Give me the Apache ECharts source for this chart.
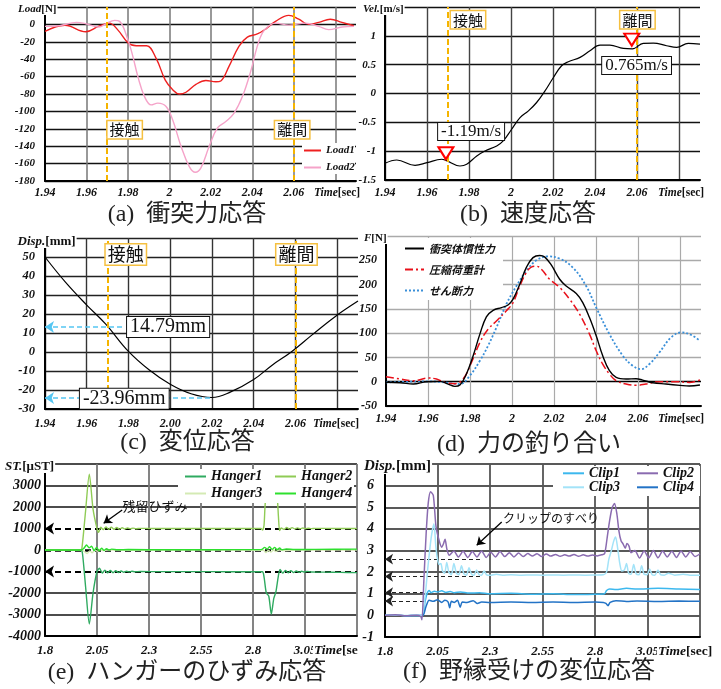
<!DOCTYPE html>
<html><head><meta charset="utf-8">
<script src="https://cdn.jsdelivr.net/npm/echarts@6/dist/echarts.min.js"></script>
<style>html,body{margin:0;padding:0;background:#fff}#c{width:721px;height:689px}</style>
</head><body><div id="c"></div>
<script>
const SERIF = '"Liberation Serif","Times New Roman",serif';
const CJK = '"Noto Sans CJK JP","Noto Sans",sans-serif';

// event times
const tContact = 1.969, tRelease = 2.0575;

// (a) impact force
const load1 = [[1.94,-8],[1.9496,-1],[1.9597,-8.5],[1.966,-2],[1.971,1.5],[1.975,-6],[1.98,-21],[1.984,-24.5],[1.989,-24.5],[1.9936,-39],[1.998,-64],[2.0016,-75],[2.0048,-80],[2.008,-78],[2.0128,-69],[2.0176,-64.5],[2.0224,-66],[2.0248,-65],[2.0288,-48],[2.0336,-25],[2.0376,-14.6],[2.0424,-11],[2.0464,-5.4],[2.0512,3.5],[2.0576,10.4],[2.0624,6],[2.0672,0],[2.072,2.3],[2.0776,6],[2.0832,2.3],[2.089,-1.5]];
const load2 = [[1.94,-2.3],[1.947,-1.5],[1.9552,2.3],[1.9597,0.8],[1.966,-3],[1.9696,1],[1.9736,4.6],[1.976,3.5],[1.98,-17.7],[1.9824,-37],[1.9848,-60],[1.988,-83],[1.9912,-92.5],[1.9944,-90.5],[1.9984,-94.4],[2.0016,-110],[2.0056,-140],[2.0096,-163.5],[2.0125,-170],[2.0152,-165],[2.0192,-140],[2.0232,-119],[2.0272,-111.7],[2.0312,-102],[2.0352,-83],[2.0392,-54],[2.0424,-25],[2.0448,-10],[2.048,-1.5],[2.0512,1.5],[2.0576,-0.8],[2.0656,1.5],[2.072,-2.3],[2.0768,-6],[2.0832,-3],[2.089,-2.3]];

// (b) velocity
const vel = [[1.94,-1.21],[1.9456,-1.153],[1.9543,-1.246],[1.96,-1.2],[1.967,-1.14],[1.969,-1.16],[1.9757,-1.257],[1.9789,-1.228],[1.9837,-1.083],[1.9876,-0.997],[1.9932,-0.91],[1.9963,-0.823],[2.0003,-0.62],[2.0043,-0.417],[2.0083,-0.301],[2.0122,-0.156],[2.0162,0.046],[2.0202,0.278],[2.0241,0.481],[2.0273,0.55],[2.0329,0.626],[2.0376,0.742],[2.0424,0.84],[2.0471,0.84],[2.0535,0.782],[2.0578,0.775],[2.063,0.869],[2.0678,0.875],[2.0741,0.828],[2.0789,0.8],[2.0844,0.869],[2.09,0.857]];
const velLabels = ['-1.19m/s', '0.765m/s'];

// (c) displacement
const disp = [[1.94,50],[1.95,36.5],[1.96,24.7],[1.969,14.79],[1.98,0.3],[1.99,-9.5],[2.0,-17],[2.01,-22],[2.02,-23.96],[2.029,-21],[2.04,-14.5],[2.049,-6.8],[2.058,0],[2.068,9],[2.079,18.6],[2.09,26.8]];
const dispLabels = ['14.79mm', '-23.96mm'];

// (d) force balance
const fInertia = [[1.94,-1.4],[1.9467,-2],[1.953,-4.8],[1.9593,0],[1.9657,0.7],[1.9696,-4.8],[1.9728,-9.6],[1.9752,-6.8],[1.9783,15.8],[1.9815,53.4],[1.9847,98],[1.9878,133.6],[1.991,147],[1.995,152.7],[1.9981,158],[2.0005,170],[2.0037,200.7],[2.0068,235],[2.01,255.5],[2.0132,260],[2.0155,257],[2.0187,240.4],[2.0227,211],[2.0258,197],[2.0306,181.5],[2.0337,163],[2.0369,132],[2.0401,94.5],[2.0432,53.4],[2.0464,22.6],[2.0496,8.9],[2.0543,5.5],[2.0591,6.2],[2.0622,3.4],[2.067,-2],[2.0733,-4.8],[2.08,-7.5],[2.0844,-8.9],[2.0895,-6.8]];
const fLoadCell = [[1.94,10.3],[1.9467,5.5],[1.953,2],[1.9601,7.5],[1.964,5.5],[1.968,-1.4],[1.9728,-4],[1.9767,5.5],[1.9807,39.7],[1.9847,80.8],[1.9886,108],[1.9926,125],[1.9973,146],[2.0005,163],[2.0037,197],[2.0068,224.7],[2.0092,236],[2.0116,237.7],[2.014,231.5],[2.0179,211],[2.0227,194],[2.0274,170],[2.0322,139],[2.0369,98],[2.0401,63.7],[2.0432,36.3],[2.0464,15.8],[2.0496,2],[2.0543,-4.8],[2.0591,-7.5],[2.0638,-4.8],[2.0702,0],[2.0781,0],[2.0844,-1.4],[2.0895,3.4]];
const fShear = [[1.94,-1.4],[1.9514,0],[1.9609,0.7],[1.9688,-2],[1.9752,-4.8],[1.9799,12.3],[1.9847,43],[1.9886,74],[1.9926,111.6],[1.9973,159.6],[2.0021,197],[2.0068,228],[2.0116,250],[2.0171,258],[2.0227,253.4],[2.029,235],[2.0353,197],[2.0401,152.7],[2.0464,98],[2.0528,53.4],[2.0575,32.9],[2.0615,26],[2.0654,36.3],[2.0702,60.3],[2.0757,91],[2.0805,101.4],[2.0852,96.6],[2.0895,84.2]];

// (e) hanger strain
const hanger1 = [[1.8,0],[1.972,0],[1.98,-150],[1.996,-1800],[2.013,-3440],[2.031,-2000],[2.05,-1000],[2.062,-850],[2.075,-1070],[2.088,-940],[2.101,-1065],[2.114,-955],[2.127,-1055],[2.14,-965],[2.153,-1045],[2.166,-975],[2.179,-1035],[2.192,-985],[2.205,-1025],[2.218,-990],[2.231,-1015],[2.26,-1000],[2.35,-1008],[2.5,-1005],[2.7,-1010],[2.845,-1010],[2.853,-1250],[2.864,-2000],[2.876,-2150],[2.888,-2980],[2.9,-2250],[2.91,-1950],[2.922,-1200],[2.93,-900],[2.943,-1075],[2.956,-950],[2.969,-1060],[2.982,-960],[2.995,-1050],[3.008,-975],[3.021,-1040],[3.034,-985],[3.047,-1030],[3.06,-995],[3.08,-1020],[3.15,-1030],[3.22,-1040],[3.3,-1050]];
const hanger2 = [[1.8,0],[1.97,0],[1.977,40],[1.995,1800],[2.013,3530],[2.031,1900],[2.05,1000],[2.058,820],[2.068,1060],[2.08,950],[2.093,1070],[2.106,960],[2.119,1055],[2.132,965],[2.145,1045],[2.158,970],[2.171,1035],[2.184,980],[2.197,1025],[2.21,985],[2.223,1018],[2.236,990],[2.26,1008],[2.3,1000],[2.4,1002],[2.5,998],[2.6,1000],[2.7,1000],[2.8,1000],[2.838,1000],[2.846,930],[2.853,1150],[2.86,2300],[2.875,2900],[2.9,3000],[2.915,2600],[2.922,1600],[2.928,900],[2.936,1020],[2.949,960],[2.962,1050],[2.975,970],[2.988,1040],[3.001,980],[3.014,1030],[3.027,985],[3.04,1025],[3.053,990],[3.066,1015],[3.08,995],[3.1,1005],[3.2,1002],[3.3,1000]];
const hanger3 = [[1.8,0],[1.975,0],[1.99,-80],[2.003,-160],[2.015,-40],[2.027,-130],[2.04,0],[2.052,-60],[2.064,20],[2.08,-30],[2.1,0],[2.2,-10],[2.5,0],[2.85,-10],[2.862,-120],[2.874,-20],[2.886,-100],[2.898,0],[2.91,-70],[2.925,0],[2.95,-30],[3.0,0],[3.3,0]];
const hanger4 = [[1.8,0],[1.97,0],[1.985,60],[2.0,230],[2.012,100],[2.024,180],[2.036,-30],[2.048,120],[2.06,-40],[2.072,80],[2.084,-20],[2.096,60],[2.108,0],[2.12,40],[2.15,10],[2.2,20],[2.4,10],[2.6,15],[2.84,20],[2.856,120],[2.868,40],[2.88,150],[2.892,30],[2.904,120],[2.916,20],[2.928,90],[2.94,10],[2.96,50],[3.0,20],[3.1,30],[3.3,40]];
const residualLevels = [1000, -1000];

// (f) clip displacement
const clip1 = [[1.8,0],[1.85,0.02],[1.9,-0.02],[1.95,0],[1.98,0],[1.99,0.6],[2.0,1.0],[2.01,1.15],[2.02,1.05],[2.035,1.12],[2.05,1.08],[2.07,1.14],[2.09,1.06],[2.11,1.1],[2.13,1.05],[2.16,1.08],[2.2,1.03],[2.25,1.05],[2.3,1.0],[2.4,1.02],[2.5,0.98],[2.6,1.0],[2.7,0.96],[2.8,0.98],[2.845,1.0],[2.855,1.15],[2.87,1.22],[2.9,1.2],[2.95,1.25],[3.0,1.22],[3.1,1.25],[3.2,1.22],[3.3,1.2]];
const clip2 = [[1.8,0],[1.85,0.03],[1.9,-0.02],[1.95,0.01],[1.97,-0.05],[1.976,-0.2],[1.985,1.6],[1.996,3.8],[2.006,5.2],[2.017,5.72],[2.03,5.55],[2.043,4.1],[2.058,3.45],[2.07,3.15],[2.078,3.3],[2.086,3.52],[2.095,3.05],[2.106,2.78],[2.128,2.98],[2.15,2.7],[2.172,2.96],[2.194,2.68],[2.216,2.95],[2.238,2.7],[2.26,2.98],[2.282,2.68],[2.304,2.92],[2.326,2.7],[2.348,2.95],[2.37,2.72],[2.392,2.9],[2.414,2.7],[2.436,2.88],[2.458,2.72],[2.48,2.86],[2.502,2.74],[2.524,2.85],[2.546,2.72],[2.568,2.84],[2.59,2.74],[2.612,2.82],[2.634,2.73],[2.656,2.8],[2.678,2.74],[2.7,2.82],[2.722,2.73],[2.744,2.8],[2.766,2.74],[2.788,2.79],[2.81,2.75],[2.832,2.8],[2.846,2.86],[2.858,3.6],[2.87,4.4],[2.882,5.0],[2.893,5.17],[2.904,4.7],[2.914,3.9],[2.924,3.45],[2.934,3.3],[2.944,3.1],[2.952,3.32],[2.962,3.2],[2.972,2.9],[2.99,3.0],[3.012,2.65],[3.034,2.98],[3.056,2.66],[3.078,3.0],[3.1,2.66],[3.122,2.98],[3.144,2.7],[3.166,2.96],[3.188,2.68],[3.21,2.98],[3.232,2.7],[3.254,2.95],[3.276,2.72],[3.3,2.85]];
const clip3 = [[1.8,0],[1.85,0.02],[1.9,-0.01],[1.95,0],[1.975,0],[1.99,0.8],[2.005,2.3],[2.02,3.6],[2.033,4.24],[2.042,3.2],[2.05,2.6],[2.058,2.35],[2.066,2.4],[2.074,2.05],[2.084,1.95],[2.094,2.45],[2.104,2.0],[2.116,1.88],[2.128,2.4],[2.14,1.95],[2.152,1.88],[2.164,2.3],[2.176,1.92],[2.188,1.86],[2.2,2.2],[2.212,1.9],[2.224,1.86],[2.236,2.1],[2.248,1.88],[2.26,1.86],[2.272,2.05],[2.284,1.87],[2.3,1.85],[2.33,1.9],[2.36,1.86],[2.4,1.88],[2.45,1.86],[2.5,1.87],[2.55,1.86],[2.6,1.87],[2.65,1.86],[2.7,1.87],[2.75,1.86],[2.8,1.87],[2.84,1.88],[2.855,2.0],[2.866,2.6],[2.878,3.0],[2.888,3.4],[2.898,3.62],[2.908,3.1],[2.918,2.4],[2.928,2.05],[2.94,2.1],[2.95,2.4],[2.96,1.95],[2.972,1.9],[2.984,2.35],[2.996,1.92],[3.01,1.88],[3.022,2.3],[3.034,1.9],[3.048,1.88],[3.06,2.15],[3.072,1.88],[3.085,1.86],[3.1,2.1],[3.112,1.88],[3.13,1.86],[3.15,1.95],[3.18,1.86],[3.22,1.9],[3.26,1.85],[3.3,1.85]];
const clip4 = [[1.8,0],[1.85,0.02],[1.9,-0.02],[1.95,0],[1.98,0],[1.995,0.4],[2.01,0.7],[2.03,0.65],[2.05,0.72],[2.07,0.6],[2.085,0.7],[2.1,0.62],[2.108,0.35],[2.116,0.65],[2.13,0.6],[2.145,0.7],[2.158,0.38],[2.168,0.62],[2.19,0.6],[2.22,0.68],[2.24,0.55],[2.26,0.62],[2.3,0.6],[2.4,0.62],[2.5,0.6],[2.6,0.62],[2.7,0.6],[2.8,0.62],[2.84,0.6],[2.852,0.55],[2.862,0.45],[2.872,0.6],[2.9,0.68],[2.95,0.64],[3.0,0.66],[3.1,0.64],[3.2,0.66],[3.3,0.65]];
const slipLevelsHigh = [2.6, 1.8];
const slipLevelsLow = [1.05, 0.66];

// ---------- helpers ----------
const fmt2 = v => String(parseFloat(v.toFixed(2)));
const xfmt = (hide, fixed) => v => hide.some(h => Math.abs(v - h) < 1e-6) ? '' : (fixed ? v.toFixed(2) : fmt2(v));
const yfmt = max => v => Math.abs(v - max) < 1e-9 ? '' : String(parseFloat(v.toFixed(2)));
const lab = (fs, m, f) => ({fontFamily: SERIF, fontWeight: 'bold', fontStyle: 'italic', fontSize: fs, color: '#111', margin: m, formatter: f, showMinLabel: true, showMaxLabel: true});

function xAx(i, min, max, interval, f, fs, m, color, w, maxLine) {
  return {type: 'value', gridIndex: i, min, max, interval,
    axisLine: {onZero: false, lineStyle: {color: '#000', width: 2}}, axisTick: {show: false},
    axisLabel: lab(fs, m, f),
    splitLine: {show: true, showMaxLine: maxLine, lineStyle: {color, width: w}}};
}
function yAx(i, min, max, interval, fs, m, color, w) {
  return {type: 'value', gridIndex: i, min, max, interval,
    axisLine: {onZero: false, lineStyle: {color: '#000', width: 2}}, axisTick: {show: false},
    axisLabel: lab(fs, m, yfmt(max)),
    splitLine: {show: true, lineStyle: {color, width: w}}};
}
const orangeLine = {color: '#f5b400', type: [6, 3], width: 2};
const orangeBox = fs => ({show: true, position: 'inside', formatter: '{b}', fontFamily: CJK, fontSize: fs, color: '#111', backgroundColor: '#fff', borderColor: '#f5c040', borderWidth: 1.5, padding: [1, 2]});
const blackBox = fs => ({show: true, position: 'inside', formatter: '{b}', fontFamily: SERIF, fontSize: fs, color: '#111', backgroundColor: '#fff', borderColor: '#111', borderWidth: 1, padding: [0, 3]});
const pt = (name, coord, label) => ({name, coord, symbol: 'rect', symbolSize: 0, label});
const tri = coord => ({coord, symbol: 'triangle', symbolSize: [15, 12], symbolRotate: 180, symbolOffset: [0, '-50%'], itemStyle: {color: '#fff', borderColor: '#ff0000', borderWidth: 2}, label: {show: false}});
const line = (name, xi, data, color, width, type, extra) => Object.assign({name, type: 'line', xAxisIndex: xi, yAxisIndex: xi, data, symbol: 'none', showSymbol: false, legendIcon: 'none', smooth: 0.4, animation: false, z: 2, lineStyle: {color, width, type: type || 'solid'}, itemStyle: {color}}, extra || {});

const T = 'rgba(0,0,0,0)';
const series = [
  line('Load1', 0, load1, '#ee2020', 1.4, null, {
    markLine: {silent: true, symbol: 'none', animation: false, label: {show: false}, lineStyle: orangeLine, data: [{xAxis: tContact}, {xAxis: tRelease}]},
    markPoint: {silent: true, animation: false, z: 6, data: [pt('接触', [1.9784, -121], orangeBox(15)), pt('離間', [2.0592, -121], orangeBox(15))]}
  }),
  line('Load2', 0, load2, '#f5a3c9', 1.4),
  line('Vel', 1, vel, '#000', 1.2, null, {
    markLine: {silent: true, symbol: 'none', animation: false, label: {show: false}, lineStyle: orangeLine, data: [{xAxis: tContact}, {xAxis: tRelease}]},
    markPoint: {silent: true, animation: false, z: 6, data: [
      tri([tContact, -1.14]), tri([tRelease, 0.83]),
      pt(velLabels[0], [1.981, -0.657], blackBox(17)), pt(velLabels[1], [2.0598, 0.484], blackBox(17)),
      pt('接触', [1.9795, 1.277], orangeBox(15)), pt('離間', [2.0602, 1.277], orangeBox(15))]}
  }),
  line('Disp', 2, disp, '#000', 1.2, null, {
    markLine: {silent: true, symbol: 'none', animation: false, label: {show: false}, lineStyle: orangeLine, data: [
      {xAxis: tContact}, {xAxis: tRelease},
      [{coord: [1.94, 13.2], symbol: 'arrow', symbolSize: 9, lineStyle: {color: '#55c6f2', type: [5, 3], width: 1.6}}, {coord: [1.977, 13.2], symbol: 'none', lineStyle: {color: '#55c6f2', type: [5, 3], width: 1.6}}],
      [{coord: [1.94, -24.2], symbol: 'arrow', symbolSize: 9, lineStyle: {color: '#55c6f2', type: [5, 3], width: 1.6}}, {coord: [2.02, -24.2], symbol: 'none', lineStyle: {color: '#55c6f2', type: [5, 3], width: 1.6}}]]},
    markPoint: {silent: true, animation: false, z: 6, data: [
      pt(dispLabels[0], [1.999, 13.1], blackBox(20)), pt(dispLabels[1], [1.978, -24.6], blackBox(20)),
      pt('接触', [1.9787, 51.3], orangeBox(18)), pt('離間', [2.0605, 51.3], orangeBox(18))]}
  }),
  line('せん断力', 3, fShear, '#3a8fd8', 1.8, [2, 2]),
  line('圧縮荷重計', 3, fLoadCell, '#e8101a', 1.5, [8, 3, 2, 3]),
  line('衝突体慣性力', 3, fInertia, '#000', 1.4),
  line('Hanger3', 4, hanger3, '#d4eab4', 1.4, null, {smooth: 0.25}),
  line('Hanger1', 4, hanger1, '#2faa60', 1.4, null, {smooth: 0.25,
    markLine: {silent: true, animation: false, z: 1, label: {show: false}, symbolSize: 9, lineStyle: {color: '#000', type: [6, 4], width: 2}, data: [
      [{coord: [1.8, residualLevels[0]], symbol: 'arrow'}, {coord: [3.3, residualLevels[0]], symbol: 'none'}],
      [{coord: [1.8, 0], symbol: 'none', lineStyle: {color: '#000', type: [6, 4], width: 2.6}}, {coord: [3.3, 0], symbol: 'none', lineStyle: {color: '#000', type: [6, 4], width: 2.6}}],
      [{coord: [1.8, residualLevels[1]], symbol: 'arrow'}, {coord: [3.3, residualLevels[1]], symbol: 'none'}],
      [{coord: [2.171, 1860], symbol: 'none', lineStyle: {color: '#000', type: 'solid', width: 1.3}}, {coord: [2.082, 1242], symbol: 'arrow', symbolSize: 8, lineStyle: {color: '#000', type: 'solid', width: 1.3}}]]},
    markPoint: {silent: true, animation: false, data: [pt('残留ひずみ', [2.172, 2060], {show: true, position: 'right', distance: 0, formatter: '{b}', fontFamily: CJK, fontSize: 13, color: '#111'})]}
  }),
  line('Hanger2', 4, hanger2, '#8fcb55', 1.4, null, {smooth: 0.25}),
  line('Hanger4', 4, hanger4, '#2ee02e', 1.4, null, {smooth: 0.25}),
  line('Clip1', 5, clip1, '#3cb8ee', 1.5, null, {smooth: 0.25,
    markLine: {silent: true, animation: false, z: 1, label: {show: false}, symbolSize: 8, lineStyle: {color: '#222', type: [4, 3], width: 1.2}, data: [
      [{coord: [1.8, slipLevelsHigh[0]], symbol: 'arrow'}, {coord: [2.2524, slipLevelsHigh[0]], symbol: 'none'}],
      [{coord: [1.8, slipLevelsHigh[1]], symbol: 'arrow'}, {coord: [2.2524, slipLevelsHigh[1]], symbol: 'none'}],
      [{coord: [1.8, slipLevelsLow[0]], symbol: 'arrow'}, {coord: [1.99, slipLevelsLow[0]], symbol: 'none'}],
      [{coord: [1.8, slipLevelsLow[1]], symbol: 'arrow'}, {coord: [1.99, slipLevelsLow[1]], symbol: 'none'}],
      [{coord: [2.3557, 4.32], symbol: 'none', lineStyle: {color: '#000', type: 'solid', width: 1.3}}, {coord: [2.2367, 3.24], symbol: 'arrow', symbolSize: 8, lineStyle: {color: '#000', type: 'solid', width: 1.3}}]]},
    markPoint: {silent: true, animation: false, data: [pt('クリップのすべり', [2.362, 4.5], {show: true, position: 'right', distance: 0, formatter: '{b}', fontFamily: CJK, fontSize: 12, color: '#111'})]}
  }),
  line('Clip4', 5, clip4, '#2373c6', 1.5, null, {smooth: 0.25}),
  line('Clip3', 5, clip3, '#a3e3f8', 1.5, null, {smooth: 0.25}),
  line('Clip2', 5, clip2, '#8a6bb0', 1.5, null, {smooth: 0.25})
];

const lgText = (ff, fs, lh) => ({fontFamily: ff, fontWeight: 'bold', fontStyle: 'italic', fontSize: fs, color: '#111', lineHeight: lh});
const lg = (data, left, top, iw, ih, gap, ts) => ({data, orient: 'vertical', left, top, itemWidth: iw, itemHeight: ih, itemGap: gap, padding: 0, selectedMode: false, textStyle: ts, z: 21,
  itemStyle: {opacity: 0, borderWidth: 0}});

const nameText = (x, y, a, b, fs) => ({type: 'text', x, y, z: 30, style: {
  text: '{i|' + a + '}{b|' + b + '}', fill: '#111',
  rich: {i: {fontFamily: SERIF, fontWeight: 'bold', fontStyle: 'italic', fontSize: fs, fill: '#111'}, b: {fontFamily: SERIF, fontWeight: 'bold', fontSize: fs, fill: '#111'}},
  align: 'left', verticalAlign: 'middle', textAlign: 'left', textVerticalAlign: 'middle', backgroundColor: '#fff', padding: [0, 1]}});
const caption = (x, y, t) => ({type: 'text', x, y, z: 30, style: {text: t, font: '24px "Liberation Serif","Noto Sans CJK JP"', fill: '#222', align: 'center', verticalAlign: 'middle', textAlign: 'center', textVerticalAlign: 'middle'}});
const whiteRect = (x, y, w, h) => ({type: 'rect', z: 20, shape: {x, y, width: w, height: h}, style: {fill: '#fff'}});

const option = {
  animation: false,
  backgroundColor: '#fff',
  grid: [
    {left: 45, top: 7, width: 311, height: 174},
    {left: 385, top: 7, width: 315, height: 173},
    {left: 45, top: 238, width: 313, height: 171},
    {left: 386, top: 236, width: 315, height: 170},
    {left: 45, top: 464, width: 312, height: 172},
    {left: 385, top: 464, width: 315, height: 173}
  ],
  xAxis: [
    xAx(0, 1.94, 2.09, 0.02, xfmt([2.08, 2.09], false), 12, 6, '#777', 1.5, false),
    xAx(1, 1.94, 2.09, 0.02, xfmt([2.08, 2.09], false), 12, 6.5, '#444', 1.4, false),
    xAx(2, 1.94, 2.09, 0.02, xfmt([2.08, 2.09], true), 12, 9, '#333', 1.4, false),
    xAx(3, 1.94, 2.09, 0.02, xfmt([2.08, 2.09], false), 12, 7, '#aaa', 1.2, false),
    xAx(4, 1.8, 3.3, 0.25, xfmt([3.3], false), 13, 8.5, '#777', 1.8, true),
    xAx(5, 1.8, 3.3, 0.25, xfmt([3.3], false), 13, 8, '#555', 1.8, true)
  ],
  yAxis: [
    yAx(0, -180, 20, 20, 11, 10, '#111', 1.3),
    yAx(1, -1.5, 1.5, 0.5, 11, 9, '#111', 1.3),
    yAx(2, -30, 60, 10, 12.5, 10, '#222', 1.3),
    yAx(3, -50, 300, 50, 12, 9, ['#aaa', '#000', '#aaa', '#aaa', '#aaa', '#aaa', '#aaa', '#aaa'], 1.3),
    yAx(4, -4000, 4000, 1000, 14, 4, ['#111', '#111', '#111', T, T, T, '#111', '#111', '#111'], 1.6),
    yAx(5, -1, 7, 1, 14, 11, '#222', 1.6)
  ],
  legend: [
    lg(['Load1', 'Load2'], 303, 144.5, 17, 8, 5, lgText(SERIF, 11, 12)),
    lg(['衝突体慣性力', '圧縮荷重計', 'せん断力'], 404, 242, 19, 10, 8, lgText(CJK, 11, 13)),
    lg(['Hanger1', 'Hanger3'], 184, 469, 21, 10, 2, lgText(SERIF, 14, 15)),
    lg(['Hanger2', 'Hanger4'], 274, 469, 21, 10, 2, lgText(SERIF, 14, 15)),
    lg(['Clip1', 'Clip3'], 562, 466.3, 21, 10, 0, lgText(SERIF, 14, 14)),
    lg(['Clip2', 'Clip4'], 636, 466.3, 21, 10, 0, lgText(SERIF, 14, 14))
  ],
  graphic: {elements: [
    whiteRect(302, 143, 53, 31),
    whiteRect(387, 238, 116, 62),
    whiteRect(178, 469, 176, 34),
    whiteRect(553, 466, 147, 30),
    nameText(17, 9.5, 'Load', '[N]', 11),
    nameText(362, 9.5, 'Vel.', '[m/s]', 11),
    nameText(16.5, 241.5, 'Disp.', '[mm]', 13),
    nameText(363, 238.5, 'F', '[N]', 11),
    nameText(4, 466.5, 'ST.', '[μST]', 13),
    nameText(363, 466.5, 'Disp.', '[mm]', 15),
    nameText(313, 193, 'Time', '[sec]', 11.5),
    nameText(657, 193, 'Time', '[sec]', 11.5),
    nameText(312, 424.5, 'Time', '[sec]', 11.5),
    nameText(657, 419, 'Time', '[sec]', 11.5),
    nameText(313, 651, 'Time', '[se', 13.5),
    nameText(657, 651.5, 'Time', '[sec]', 13.5),
    caption(187, 215, '(a)  衝突力応答'),
    caption(528, 215, '(b)  速度応答'),
    caption(187.5, 443, '(c)  変位応答'),
    caption(529, 444.5, '(d)  力の釣り合い'),
    caption(187, 672.5, '(e)  ハンガーのひずみ応答'),
    caption(529, 671.5, '(f)  野縁受けの変位応答')
  ]},
  series
};

const chart = echarts.init(document.getElementById('c'), null, {renderer: 'canvas'});
chart.setOption(option);
</script></body></html>
